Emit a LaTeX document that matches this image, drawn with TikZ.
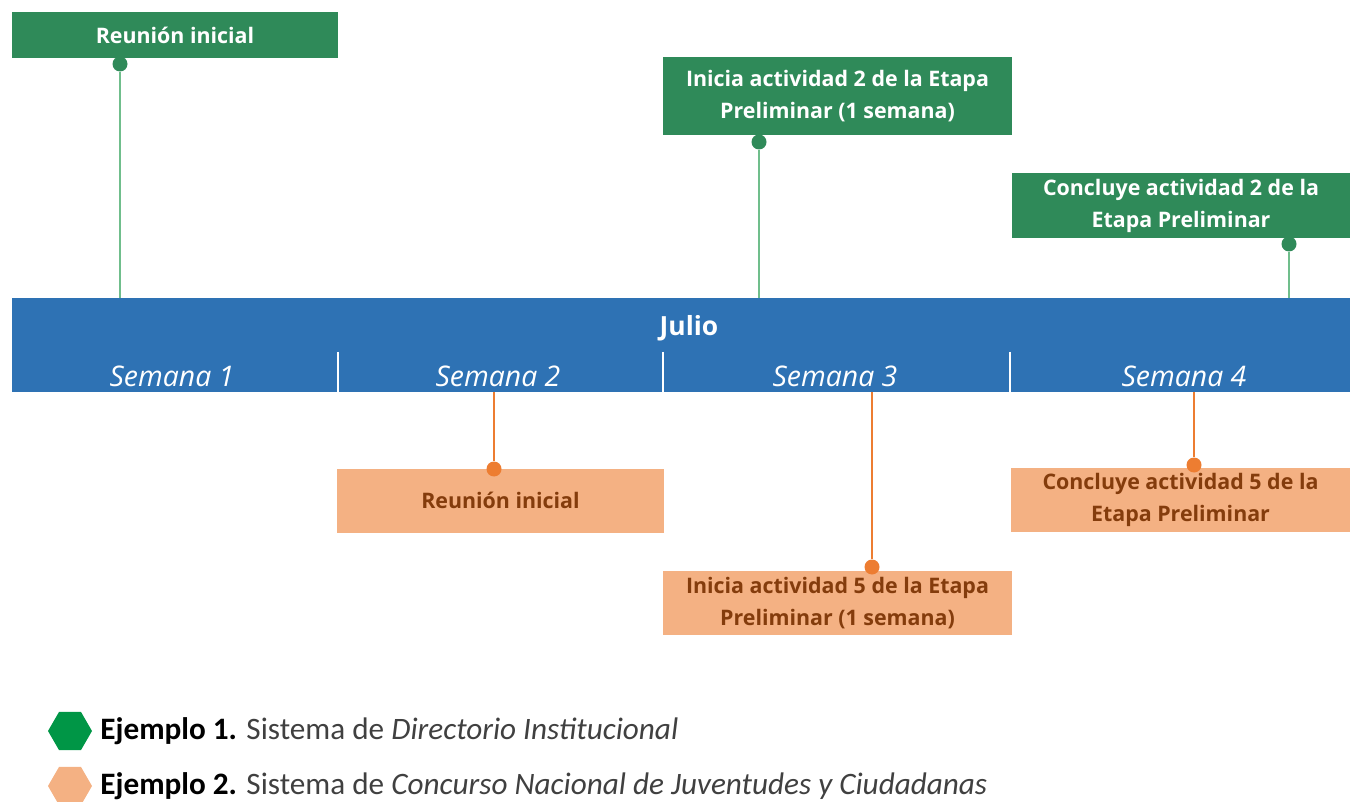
\documentclass[tikz,border=0pt]{standalone}
\usepackage{fontspec}
\setmainfont{Open Sans}
\newfontfamily\legendfont{Carlito}
\usetikzlibrary{shapes.geometric}

\definecolor{boxgreen}{RGB}{47,138,89}
\definecolor{linegreen}{RGB}{112,190,140}
\definecolor{hexgreen}{RGB}{0,150,70}
\definecolor{barblue}{RGB}{46,114,180}
\definecolor{boxorange}{RGB}{244,177,131}
\definecolor{lineorange}{RGB}{237,125,49}
\definecolor{textbrown}{RGB}{132,60,12}
\definecolor{legendgray}{RGB}{64,64,64}

\tikzset{
  gbox/.style={fill=boxgreen, text=white, font=\bfseries\fontsize{10.7}{16}\selectfont,
    align=center, inner sep=0pt},
  obox/.style={fill=boxorange, text=textbrown, font=\bfseries\fontsize{10.7}{16}\selectfont,
    align=center, inner sep=0pt},
  gdot/.style={circle, fill=boxgreen, inner sep=0pt, minimum size=7.5pt},
  odot/.style={circle, fill=lineorange, inner sep=0pt, minimum size=7.5pt},
  gline/.style={draw=linegreen, line width=0.9pt},
  oline/.style={draw=lineorange, line width=1.1pt},
  week/.style={text=white, font=\itshape\fontsize{14.2}{16}\selectfont},
  hexmark/.style={regular polygon, regular polygon sides=6, inner sep=0pt, minimum size=22pt},
  legendtext/.style={anchor=west, inner sep=0pt, font=\legendfont\fontsize{15.6}{18}\selectfont}
}

\begin{document}
\begin{tikzpicture}[x=0.5pt, y=-0.5pt]
  \useasboundingbox (0,0) rectangle (1350,802);

  % month bar
  \node[fill=barblue, inner sep=0pt, minimum width=669pt, minimum height=47pt] (bar) at (681,345) {};
  \node[text=white, font=\bfseries\fontsize{13.2}{15}\selectfont] (month) at (689,328) {Julio};
  \foreach \x in {338,663,1010}
    \draw[white, line width=1pt] (\x,352) -- (\x,392);
  \node[week] (w1) at (172,376) {Semana 1};
  \node[week] (w2) at (498,376) {Semana 2};
  \node[week] (w3) at (835,376) {Semana 3};
  \node[week] (w4) at (1184,376) {Semana 4};

  % ejemplo 1
  \node[gbox, minimum width=163pt, minimum height=23pt] (g1) at (175,35) {Reunión inicial};
  \node[gbox, minimum width=174.5pt, minimum height=39pt] (g2) at (837.5,96) {Inicia actividad 2 de la Etapa\\Preliminar (1 semana)};
  \node[gbox, minimum width=169pt, minimum height=32.5pt] (g3) at (1181,205.5) {Concluye actividad 2 de la\\Etapa Preliminar};
  \node[gdot] (gd1) at (120,64) {};
  \node[gdot] (gd2) at (759,142) {};
  \node[gdot] (gd3) at (1289,244) {};
  \foreach \d in {gd1,gd2,gd3}
    \draw[gline] (\d) -- (\d |- bar.north);

  % ejemplo 2
  \node[obox, minimum width=163.5pt, minimum height=32pt] (o1) at (500.5,500.5) {Reunión inicial};
  \node[obox, minimum width=174.5pt, minimum height=32pt] (o2) at (837.5,603) {Inicia actividad 5 de la Etapa\\Preliminar (1 semana)};
  \node[obox, minimum width=169.5pt, minimum height=32pt] (o3) at (1180.5,500) {Concluye actividad 5 de la\\Etapa Preliminar};
  \node[odot] (od1) at (494,469) {};
  \node[odot] (od2) at (872,567) {};
  \node[odot] (od3) at (1194,465) {};
  \foreach \d in {od1,od2,od3}
    \draw[oline] (\d |- bar.south) -- (\d);

  % leyenda
  \node[hexmark, fill=hexgreen] (hex1) at (70,731) {};
  \node[hexmark, fill=boxorange] (hex2) at (70,786) {};
  \node[legendtext] (leg1) at (100,731) {\textbf{Ejemplo 1.} \textcolor{legendgray}{Sistema de \textit{Directorio Institucional}}};
  \node[legendtext] (leg2) at (100,786) {\textbf{Ejemplo 2.} \textcolor{legendgray}{Sistema de \textit{Concurso Nacional de Juventudes y Ciudadanas}}};
\end{tikzpicture}
\end{document}
